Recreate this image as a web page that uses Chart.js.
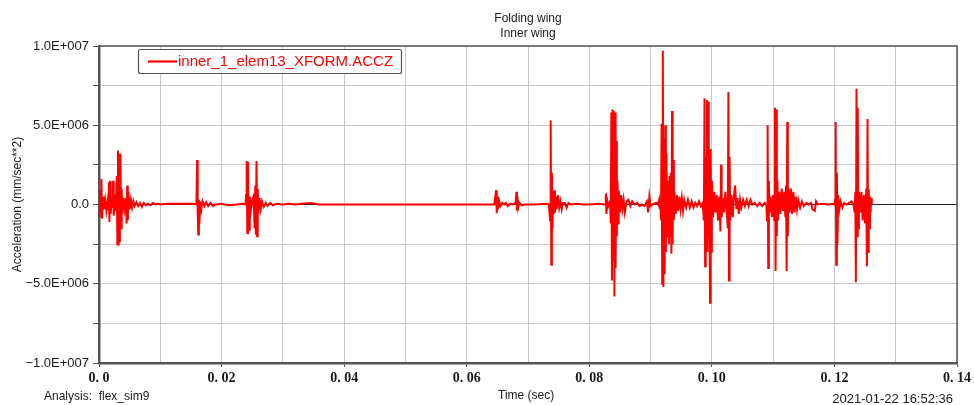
<!DOCTYPE html>
<html>
<head>
<meta charset="utf-8">
<script src="https://cdn.jsdelivr.net/npm/chart.js@4.4.1/dist/chart.umd.min.js"></script>
<style>
  html, body { margin: 0; padding: 0; background: #ffffff; }
  #wrap { width: 974px; height: 405px; position: relative; }
</style>
</head>
<body>
<div id="wrap"><canvas id="c" width="974" height="405"></canvas></div>
<script>
// ---- Data (time in s, acceleration in 1E6 mm/sec**2) ----
const timeSec = [
  0.0000,0.0002,0.0003,0.0004,0.0005,0.0007,0.0008,0.0010,0.0012,0.0014,
  0.0015,0.0016,0.0017,0.0018,0.0019,0.0021,0.0022,0.0023,0.0024,0.0026,
  0.0027,0.0029,0.0030,0.0031,0.0032,0.0033,0.0034,0.0035,0.0036,0.0037,
  0.0038,0.0040,0.0042,0.0044,0.0045,0.0046,0.0047,0.0048,0.0050,0.0052,
  0.0054,0.0056,0.0058,0.0061,0.0064,0.0067,0.0070,0.0073,0.0076,0.0080,
  0.0084,0.0088,0.0092,0.0096,0.0100,0.0110,0.0140,0.0155,0.0159,0.0160,
  0.0161,0.0162,0.0163,0.0164,0.0165,0.0167,0.0169,0.0172,0.0175,0.0178,
  0.0182,0.0186,0.0190,0.0200,0.0210,0.0225,0.0235,0.0239,0.0240,0.0241,
  0.0242,0.0243,0.0244,0.0245,0.0246,0.0248,0.0250,0.0252,0.0254,0.0255,
  0.0256,0.0257,0.0258,0.0259,0.0260,0.0262,0.0264,0.0266,0.0269,0.0272,
  0.0275,0.0279,0.0284,0.0290,0.0300,0.0310,0.0320,0.0330,0.0345,0.0360,
  0.0645,0.0648,0.0649,0.0650,0.0651,0.0653,0.0655,0.0658,0.0661,0.0664,
  0.0667,0.0671,0.0675,0.0680,0.0681,0.0682,0.0683,0.0684,0.0686,0.0690,
  0.0695,0.0710,0.0730,0.0734,0.0736,0.0737,0.0738,0.0739,0.0740,0.0741,
  0.0742,0.0743,0.0744,0.0746,0.0747,0.0749,0.0751,0.0753,0.0755,0.0757,
  0.0760,0.0763,0.0766,0.0770,0.0780,0.0790,0.0800,0.0815,0.0826,0.0827,
  0.0828,0.0829,0.0831,0.0834,0.0835,0.0836,0.0837,0.0838,0.0839,0.0840,
  0.0841,0.0842,0.0843,0.0844,0.0845,0.0846,0.0847,0.0848,0.0850,0.0852,
  0.0854,0.0856,0.0858,0.0861,0.0864,0.0867,0.0870,0.0874,0.0878,0.0882,
  0.0886,0.0890,0.0894,0.0896,0.0898,0.0900,0.0905,0.0910,0.0912,0.0914,
  0.0915,0.0916,0.0917,0.0918,0.0919,0.0920,0.0921,0.0922,0.0923,0.0924,
  0.0925,0.0926,0.0927,0.0928,0.0930,0.0931,0.0932,0.0933,0.0934,0.0935,
  0.0936,0.0937,0.0938,0.0939,0.0941,0.0943,0.0945,0.0947,0.0949,0.0951,
  0.0953,0.0955,0.0958,0.0961,0.0964,0.0967,0.0970,0.0973,0.0976,0.0979,
  0.0982,0.0985,0.0987,0.0988,0.0989,0.0990,0.0991,0.0992,0.0993,0.0994,
  0.0995,0.0996,0.0997,0.0998,0.0999,0.1000,0.1002,0.1004,0.1006,0.1008,
  0.1010,0.1012,0.1014,0.1015,0.1016,0.1018,0.1020,0.1022,0.1024,0.1026,
  0.1027,0.1028,0.1029,0.1030,0.1032,0.1034,0.1036,0.1038,0.1040,0.1042,
  0.1044,0.1046,0.1048,0.1051,0.1054,0.1057,0.1060,0.1063,0.1066,0.1070,
  0.1074,0.1078,0.1082,0.1086,0.1089,0.1090,0.1091,0.1092,0.1093,0.1094,
  0.1096,0.1098,0.1100,0.1102,0.1103,0.1104,0.1105,0.1106,0.1107,0.1108,
  0.1110,0.1112,0.1114,0.1116,0.1118,0.1120,0.1121,0.1122,0.1123,0.1124,
  0.1125,0.1127,0.1129,0.1131,0.1133,0.1135,0.1137,0.1139,0.1141,0.1144,
  0.1147,0.1150,0.1154,0.1158,0.1162,0.1164,0.1168,0.1170,0.1173,0.1180,
  0.1190,0.1198,0.1200,0.1201,0.1202,0.1203,0.1204,0.1205,0.1206,0.1208,
  0.1210,0.1213,0.1216,0.1220,0.1224,0.1228,0.1231,0.1233,0.1234,0.1235,
  0.1236,0.1237,0.1238,0.1239,0.1240,0.1242,0.1244,0.1246,0.1248,0.1250,
  0.1252,0.1253,0.1254,0.1255,0.1256,0.1257,0.1258,0.1259,0.1260,0.1261
];
const accelE6 = [
  0,0.9,-0.8,1.6,-0.9,0.5,-0.3,0.3,-0.4,0.2,
  -0.3,1.4,-1.1,1.5,-0.6,0.4,-0.2,1.5,-0.7,0.6,
  -0.4,1.8,-2.5,3.4,-2.6,3.2,-2.4,3.2,-1.5,1.0,
  -0.6,0.4,-0.3,0.4,-1.2,1.2,-1.0,0.8,-0.3,0.3,
  -0.2,0.2,-0.1,0.15,-0.1,0.1,-0.15,0.1,-0.05,0.05,
  -0.05,0.1,0,0.05,0,0.05,0.05,0.05,0,2.8,
  -0.4,-1.9,0.3,-1.2,0.2,-0.3,0.2,-0.1,0.15,-0.1,
  0.1,-0.1,0,0.05,-0.05,0,0.05,0,0.6,2.75,
  -1.8,2.7,-0.9,-1.6,0.5,-0.3,0.3,0.5,-1.5,1.2,
  -1.9,2.75,-2.0,1.0,-0.6,0.4,-0.3,0.2,-0.15,0.1,
  -0.1,0.1,-0.05,0.05,0,0.05,0,0.05,0.1,0,
  0,0.9,-0.55,0.5,-0.3,0.2,-0.1,0.1,0,0.1,
  -0.1,0.05,0,0.1,0.8,-0.4,0.5,-0.2,0.1,-0.05,
  0,0,0.05,0,-1.0,5.3,-3.8,2.0,-1.5,0.8,
  -0.6,0.9,-0.5,0.5,-0.3,0.6,-0.2,0.2,-0.3,0.1,
  0.1,-0.2,0.1,0,0.05,0,0,0.05,0,0.7,
  -0.6,0.3,-0.1,0.2,-1.2,5.8,-4.8,6.0,-3.5,5.9,
  -5.8,5.8,-4.0,4.0,-2.0,1.5,-1.2,0.9,-0.5,0.6,
  -0.3,0.3,-0.5,0.2,0.3,-0.1,0.2,0,0.1,-0.1,
  0,-0.1,0.2,-0.5,0.5,-0.1,0.05,0.1,0,0.3,
  -0.3,0.2,-1.0,5.1,-5.0,9.7,-5.2,4.2,-4.4,5.0,
  -3.0,3.2,-2.0,1.5,-2.5,1.8,-2.0,2.0,-3.1,5.9,
  -2.5,2.8,-1.0,0.8,-0.6,0.6,-0.4,0.5,-0.3,0.4,
  -0.4,0.3,-0.2,0.3,-0.2,0.2,-0.2,0.1,-0.1,0.2,
  -0.1,0.1,-1.0,6.7,-3.9,3.0,-2.5,6.6,-3.0,6.5,
  -2.0,2.0,-6.2,3.5,-3.0,1.5,-0.8,0.8,-0.5,0.6,
  -1.0,0.5,-1.7,2.5,-0.8,0.4,-0.5,0.8,-0.3,-1.5,
  7.1,-4.8,3.0,-1.0,0.6,-0.8,0.5,1.2,-0.3,0.4,
  -0.6,0.3,-0.2,0.3,-0.1,0.3,-0.1,0.3,0,0.1,
  -0.1,0.1,-0.1,0.1,0,-1.0,5.0,-4.0,1.5,-0.5,
  0.5,-0.8,0.6,-1.0,6.1,-4.2,6.0,-2.0,1.5,-1.0,
  0.8,-0.6,1.0,-0.4,0.8,-0.8,1.2,-4.2,5.2,-2.0,
  1.0,-0.5,1.0,-0.6,0.8,-0.5,0.5,-0.3,0.3,-0.2,
  0.2,-0.1,0.1,0,0.1,-0.3,-0.4,0.2,0,0.05,
  0,0.05,0,0.3,5.2,-3.8,2.0,-2.5,0.6,-0.3,
  0.2,-0.2,0.1,0,0.1,0.2,0,-0.5,0.8,-4.9,
  7.3,-2.0,6.1,-1.5,0.8,-0.5,0.8,-1.0,0.6,-1.2,
  1.0,-3.9,5.4,-3.0,1.0,-1.5,0.5,-0.5,0.4,0
];
const seriesName = "inner_1_elem13_XFORM.ACCZ";
const titleLines = ["Folding wing", "Inner wing"];
const xTickLabels = ["0. 0", "0. 02", "0. 04", "0. 06", "0. 08", "0. 10", "0. 12", "0. 14"];
const yTickLabels = ["\u22121.0E+007", "\u22125.0E+006", "0.0", "5.0E+006", "1.0E+007"];
const xRange = [0, 0.14];
const yRange = [-1.0e7, 1.0e7];
const xAxisTitle = "Time (sec)";
const yAxisTitle = "Acceleration (mm/sec**2)";
const analysisText = "Analysis:  flex_sim9";
const dateText = "2021-01-22 16:52:36";

const n = Math.min(timeSec.length, accelE6.length);
const points = [];
for (let i = 0; i < n; i++) points.push({ x: timeSec[i], y: accelE6[i] * 1e6 });
const zeroLine = [{ x: xRange[0], y: 0 }, { x: xRange[1], y: 0 }];

const GRID = '#c9c9c9';
const AXIS = '#555555';
const TXT = '#1a1a1a';

const annotPlugin = {
  id: 'annot',
  afterDraw(chart) {
    const ctx = chart.ctx;
    const a = chart.chartArea;
    ctx.save();
    // top and right frame
    ctx.strokeStyle = AXIS;
    ctx.lineWidth = 1.5;
    ctx.beginPath();
    ctx.moveTo(a.left, a.top);
    ctx.lineTo(a.right, a.top);
    ctx.lineTo(a.right, a.bottom);
    ctx.stroke();

    // titles
    const cx = (a.left + a.right) / 2;
    ctx.fillStyle = TXT;
    ctx.font = '12px "Liberation Sans", Arial, sans-serif';
    ctx.textAlign = 'center';
    ctx.textBaseline = 'middle';
    ctx.fillText(titleLines[0], cx, 19);
    ctx.fillText(titleLines[1], cx, 34);

    // legend box
    ctx.fillStyle = '#ffffff';
    ctx.strokeStyle = '#555555';
    ctx.lineWidth = 1.2;
    ctx.beginPath();
    if (ctx.roundRect) ctx.roundRect(138.5, 49.5, 263, 24, 2); else ctx.rect(138.5, 49.5, 263, 24);
    ctx.fill();
    ctx.stroke();
    ctx.strokeStyle = '#ff0000';
    ctx.lineWidth = 2.2;
    ctx.beginPath();
    ctx.moveTo(148, 61.5);
    ctx.lineTo(177, 61.5);
    ctx.stroke();
    ctx.fillStyle = '#ff0000';
    ctx.font = '15px "Liberation Sans", Arial, sans-serif';
    ctx.textAlign = 'left';
    ctx.fillText(seriesName, 178, 62);

    // y axis title
    ctx.fillStyle = TXT;
    ctx.font = '12px "Liberation Sans", Arial, sans-serif';
    ctx.save();
    ctx.translate(18, (a.top + a.bottom) / 2);
    ctx.rotate(-Math.PI / 2);
    ctx.textAlign = 'center';
    ctx.fillText(yAxisTitle, 0, 0);
    ctx.restore();

    // bottom texts
    ctx.font = '12px "Liberation Sans", Arial, sans-serif';
    ctx.textAlign = 'left';
    ctx.fillText(analysisText, 44, 397);
    ctx.fillText(xAxisTitle, 498, 396);
    ctx.font = '13px "Liberation Sans", Arial, sans-serif';
    ctx.textAlign = 'right';
    ctx.fillText(dateText, 953, 399);
    ctx.restore();
  }
};

new Chart(document.getElementById('c'), {
  type: 'line',
  data: {
    datasets: [
      {
        label: seriesName,
        data: points,
        borderColor: '#ff0000',
        borderWidth: 2,
        pointRadius: 0,
        tension: 0,
        fill: false,
        order: 0
      },
      {
        label: 'zero',
        data: zeroLine,
        borderColor: '#222222',
        borderWidth: 1,
        pointRadius: 0,
        fill: false,
        order: 1
      }
    ]
  },
  options: {
    responsive: false,
    animation: false,
    events: [],
    layout: { padding: { top: 46, right: 17, left: 0, bottom: 0 } },
    plugins: {
      legend: { display: false },
      title: { display: false },
      tooltip: { enabled: false }
    },
    scales: {
      x: {
        type: 'linear',
        min: xRange[0],
        max: xRange[1],
        afterFit(scale) { scale.height = 42; },
        afterBuildTicks(scale) {
          const t = [];
          for (let i = 0; i <= 14; i++) t.push({ value: i / 100 });
          scale.ticks = t;
        },
        grid: {
          color: GRID,
          lineWidth: 1,
          tickLength: 4,
          tickColor: (c) => (c.index % 2 === 0 ? AXIS : 'rgba(0,0,0,0)')
        },
        border: { color: AXIS, width: 2.5 },
        ticks: {
          autoSkip: false,
          maxRotation: 0,
          padding: 3,
          color: TXT,
          font: { family: '"Liberation Serif", "Times New Roman", serif', size: 14, weight: 'bold' },
          callback: (v, i) => (i % 2 === 0 ? xTickLabels[i / 2] : '')
        }
      },
      y: {
        type: 'linear',
        min: yRange[0],
        max: yRange[1],
        afterFit(scale) { scale.width = 99; },
        afterBuildTicks(scale) {
          const t = [];
          for (let i = 0; i <= 8; i++) t.push({ value: yRange[0] + i * 2.5e6 });
          scale.ticks = t;
        },
        grid: {
          color: GRID,
          lineWidth: 1,
          tickLength: 6,
          tickColor: AXIS
        },
        border: { color: AXIS, width: 2.5 },
        ticks: {
          autoSkip: false,
          padding: 4,
          color: TXT,
          font: { family: '"Liberation Sans", Arial, sans-serif', size: 13 },
          callback: (v, i) => (i % 2 === 0 ? yTickLabels[i / 2] : '')
        }
      }
    }
  },
  plugins: [annotPlugin]
});
</script>
</body>
</html>
